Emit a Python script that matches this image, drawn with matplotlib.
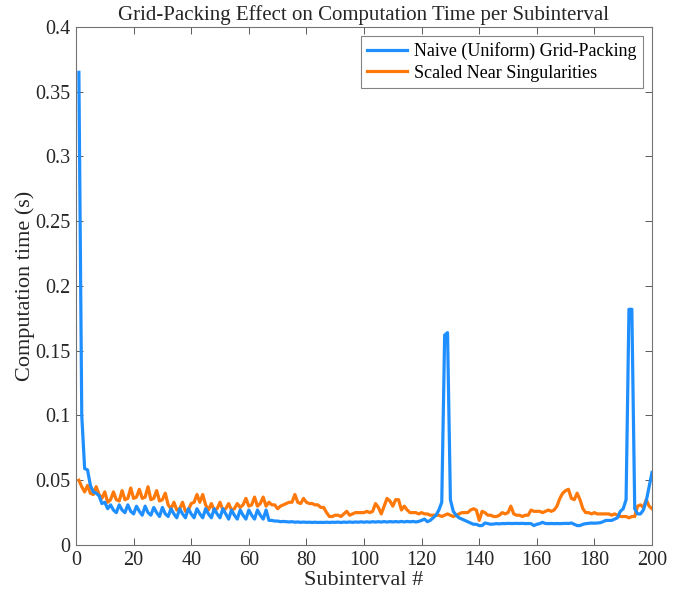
import matplotlib
matplotlib.use("Agg")
import matplotlib.pyplot as plt
import numpy as np

subinterval = list(range(1, 201))

naive = [
    0.365, 0.100, 0.059, 0.058, 0.046, 0.041, 0.040, 0.038, 0.032, 0.033,
    0.028, 0.031, 0.027, 0.025, 0.031, 0.027, 0.025, 0.031, 0.026, 0.024,
    0.030, 0.026, 0.023, 0.030, 0.025, 0.023, 0.029, 0.025, 0.022, 0.029,
    0.024, 0.022, 0.028, 0.024, 0.021, 0.028, 0.024, 0.021, 0.028, 0.024,
    0.021, 0.028, 0.024, 0.021, 0.028, 0.024, 0.021, 0.028, 0.024, 0.021,
    0.028, 0.024, 0.020, 0.027, 0.023, 0.020, 0.027, 0.023, 0.020, 0.027,
    0.023, 0.020, 0.027, 0.023, 0.020, 0.027, 0.019, 0.019, 0.0185, 0.0185,
    0.018, 0.0182, 0.018, 0.0178, 0.018, 0.0176, 0.0178, 0.0175, 0.0177, 0.0175,
    0.0176, 0.0174, 0.0176, 0.0174, 0.0175, 0.0174, 0.0176, 0.0174, 0.0176, 0.0175,
    0.0177, 0.0174, 0.0177, 0.0175, 0.0178, 0.0175, 0.0178, 0.0176, 0.0179, 0.0176,
    0.0179, 0.0176, 0.0180, 0.0177, 0.0180, 0.0177, 0.0181, 0.0177, 0.0181, 0.0178,
    0.0181, 0.0178, 0.0182, 0.0178, 0.0182, 0.0179, 0.0182, 0.0178, 0.0182, 0.019,
    0.020, 0.018, 0.019, 0.021, 0.023, 0.027, 0.033, 0.162, 0.164, 0.035,
    0.026, 0.023, 0.021, 0.020, 0.019, 0.018, 0.017, 0.016, 0.016, 0.015,
    0.015, 0.017, 0.0165, 0.016, 0.0162, 0.0165, 0.0163, 0.0166, 0.0165, 0.0167,
    0.0166, 0.0166, 0.0167, 0.0166, 0.0167, 0.0165, 0.0166, 0.0165, 0.015, 0.016,
    0.0165, 0.0175, 0.0166, 0.0165, 0.0166, 0.0165, 0.0166, 0.0165, 0.0166, 0.0167,
    0.0166, 0.017, 0.016, 0.015, 0.015, 0.016, 0.0165, 0.0167, 0.017, 0.0168,
    0.017, 0.0172, 0.018, 0.019, 0.019, 0.019, 0.020, 0.021, 0.026, 0.028,
    0.035, 0.182, 0.182, 0.028, 0.024, 0.024, 0.027, 0.034, 0.045, 0.056,
]

scaled = [
    0.050, 0.045, 0.041, 0.046, 0.040, 0.039, 0.045, 0.039, 0.036, 0.041,
    0.033, 0.035, 0.041, 0.035, 0.034, 0.042, 0.035, 0.036, 0.044, 0.036,
    0.037, 0.043, 0.036, 0.037, 0.045, 0.035, 0.036, 0.042, 0.034, 0.035,
    0.040, 0.031, 0.028, 0.033, 0.027, 0.028, 0.033, 0.026, 0.027, 0.032,
    0.033, 0.039, 0.033, 0.039, 0.031, 0.027, 0.032, 0.027, 0.028, 0.033,
    0.027, 0.028, 0.032, 0.027, 0.028, 0.032, 0.029, 0.031, 0.036, 0.030,
    0.031, 0.037, 0.030, 0.032, 0.037, 0.030, 0.033, 0.031, 0.031, 0.028,
    0.030, 0.031, 0.032, 0.033, 0.033, 0.039, 0.033, 0.032, 0.036, 0.033,
    0.032, 0.032, 0.031, 0.031, 0.029, 0.029, 0.025, 0.022, 0.022, 0.023,
    0.023, 0.022, 0.024, 0.026, 0.023, 0.024, 0.025, 0.025, 0.025, 0.025,
    0.026, 0.025, 0.026, 0.032, 0.029, 0.024, 0.030, 0.036, 0.034, 0.030,
    0.035, 0.035, 0.027, 0.030, 0.027, 0.025, 0.025, 0.025, 0.024, 0.025,
    0.024, 0.024, 0.023, 0.023, 0.023, 0.023, 0.022, 0.023, 0.024, 0.023,
    0.022, 0.023, 0.024, 0.025, 0.025, 0.025, 0.027, 0.028, 0.027, 0.019,
    0.026, 0.025, 0.023, 0.023, 0.022, 0.022, 0.023, 0.025, 0.024, 0.025,
    0.030, 0.024, 0.023, 0.023, 0.022, 0.023, 0.023, 0.027, 0.026, 0.026,
    0.026, 0.025, 0.026, 0.027, 0.026, 0.027, 0.030, 0.036, 0.040, 0.042,
    0.043, 0.036, 0.035, 0.040, 0.035, 0.028, 0.025, 0.025, 0.024, 0.025,
    0.024, 0.024, 0.024, 0.024, 0.024, 0.023, 0.024, 0.023, 0.022, 0.022,
    0.022, 0.021, 0.022, 0.022, 0.030, 0.031, 0.029, 0.035, 0.030, 0.028,
]

x_ticks = [0, 20, 40, 60, 80, 100, 120, 140, 160, 180, 200]
y_ticks = [0, 0.05, 0.1, 0.15, 0.2, 0.25, 0.3, 0.35, 0.4]
y_tick_labels = ["0", "0.05", "0.1", "0.15", "0.2", "0.25", "0.3", "0.35", "0.4"]

plt.rcParams['font.family'] = ['Liberation Serif', 'DejaVu Serif']

fig = plt.figure(figsize=(6.89, 5.97), dpi=100)
ax = fig.add_axes([0.1103, 0.0871, 0.8360, 0.8677])

blue = (0.12, 0.56, 1.0)
orange = (1.0, 0.47, 0.04)
ax.plot(subinterval, naive, color=blue, lw=2.3, label="Naive (Uniform) Grid-Packing", zorder=3)
ax.plot(subinterval, scaled, color=orange, lw=2.3, label="Scaled Near Singularities", zorder=2)

ax.set_xlim(0, 200)
ax.set_ylim(0, 0.4)
ax.set_xticks(x_ticks)
ax.set_yticks(y_ticks)
ax.set_yticklabels(y_tick_labels)

edge = (0.15, 0.15, 0.15)
for s in ax.spines.values():
    s.set_color((0.45, 0.45, 0.45))
    s.set_linewidth(0.8)
ax.tick_params(direction='in', top=True, right=True, length=5, width=0.7,
               colors=(0.35, 0.35, 0.35), labelcolor=edge, labelsize=14.5, pad=4)

ax.set_xlabel("Subinterval #", fontsize=16, color=edge, labelpad=1)
ax.set_ylabel("Computation time (s)", fontsize=16, color=edge, labelpad=0)
ax.set_title("Grid-Packing Effect on Computation Time per Subinterval", fontsize=15,
             color=edge, pad=5)

leg = ax.legend(loc='upper right', fontsize=13, frameon=True, fancybox=False,
                handlelength=2.2, handletextpad=0.4, borderpad=0.35, labelspacing=0.25,
                borderaxespad=0.5)
leg.get_frame().set_edgecolor((0.4, 0.4, 0.4))
leg.get_frame().set_linewidth(0.8)

fig.savefig("out.png", dpi=100)
